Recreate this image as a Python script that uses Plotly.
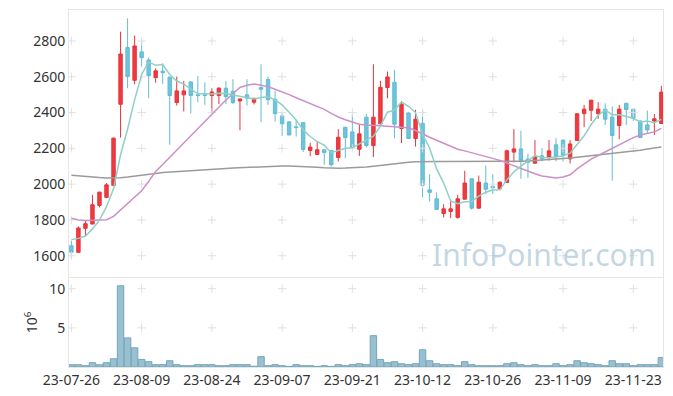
import plotly.graph_objects as go

dates = (
    ["2023-07-%02d" % d for d in [26, 27, 28, 31]]
    + ["2023-08-%02d" % d for d in [1, 2, 3, 4, 7, 8, 9, 10, 11, 14, 16, 17, 18, 21, 22, 23, 24, 25, 28, 29, 30, 31]]
    + ["2023-09-%02d" % d for d in [1, 4, 5, 6, 7, 8, 11, 12, 13, 14, 15, 18, 19, 20, 21, 22, 25, 26, 27]]
    + ["2023-10-%02d" % d for d in [4, 5, 6, 10, 11, 12, 13, 16, 17, 18, 19, 20, 23, 24, 25, 26, 27, 30, 31]]
    + ["2023-11-%02d" % d for d in [1, 2, 3, 6, 7, 8, 9, 10, 13, 14, 15, 16, 17, 20, 21, 22, 23, 24, 27, 28, 29]]
)

open_ = [1656, 1619, 1753, 1777, 1881, 1926, 1993, 2446, 2763, 2580,
         2739, 2694, 2595, 2631, 2598, 2456, 2499, 2571, 2499, 2499,
         2495, 2495, 2536, 2519, 2465, 2499, 2458, 2540, 2585, 2474,
         2381, 2348, 2320, 2344, 2188, 2166, 2192, 2188, 2149, 2318,
         2292, 2195, 2374, 2216, 2337, 2540, 2569, 2311, 2398, 2255,
         2340, 1968, 1918, 1836, 1847, 1814, 1916, 2030, 1866, 2006,
         1988, 1974, 2009, 2179, 2197, 2140, 2117, 2158, 2151, 2220,
         2246, 2141, 2244, 2394, 2413, 2394, 2419, 2374, 2327, 2452,
         2419, 2353, 2331, 2353, 2339]
high = [1684, 1764, 1795, 1940, 1959, 2006, 2260, 2852, 2926, 2830,
        2806, 2707, 2647, 2675, 2600, 2601, 2577, 2575, 2605, 2569,
        2536, 2543, 2577, 2586, 2478, 2586, 2481, 2670, 2600, 2521,
        2396, 2350, 2359, 2347, 2231, 2242, 2193, 2190, 2307, 2320,
        2391, 2335, 2391, 2670, 2577, 2629, 2638, 2465, 2400, 2415,
        2415, 2056, 1954, 1888, 1907, 1940, 2074, 2031, 2048, 2104,
        2056, 2015, 2192, 2307, 2298, 2170, 2246, 2201, 2246, 2257,
        2248, 2246, 2396, 2443, 2471, 2458, 2452, 2434, 2443, 2454,
        2420, 2355, 2411, 2392, 2549]
low = [1587, 1619, 1708, 1777, 1870, 1922, 1993, 2260, 2536, 2558,
       2657, 2480, 2567, 2560, 2220, 2439, 2406, 2394, 2458, 2443,
       2400, 2447, 2447, 2447, 2301, 2439, 2445, 2346, 2443, 2350,
       2270, 2273, 2266, 2179, 2156, 2164, 2108, 2099, 2127, 2145,
       2197, 2158, 2205, 2151, 2335, 2480, 2257, 2229, 2253, 2210,
       1926, 1903, 1857, 1814, 1810, 1807, 1914, 1857, 1862, 1944,
       1944, 1972, 2007, 2121, 2030, 2035, 2115, 2127, 2132, 2127,
       2127, 2115, 2242, 2318, 2353, 2365, 2331, 2020, 2251, 2331,
       2353, 2257, 2281, 2275, 2337]
close = [1620, 1755, 1779, 1885, 1955, 1996, 2257, 2727, 2601, 2772,
         2707, 2606, 2633, 2623, 2495, 2521, 2521, 2495, 2495, 2495,
         2515, 2536, 2489, 2456, 2476, 2480, 2480, 2530, 2472, 2394,
         2337, 2275, 2316, 2194, 2207, 2192, 2177, 2108, 2262, 2260,
         2207, 2281, 2216, 2374, 2541, 2599, 2335, 2446, 2255, 2363,
         1993, 1954, 1859, 1862, 1862, 1918, 2006, 1866, 2011, 1972,
         1980, 2011, 2186, 2197, 2132, 2122, 2155, 2141, 2186, 2155,
         2160, 2225, 2393, 2419, 2469, 2419, 2363, 2272, 2419, 2417,
         2368, 2260, 2303, 2365, 2514]

ma5 = [1690, 1697, 1710, 1750, 1799, 1874, 1974, 2164, 2307, 2471,
       2613, 2683, 2664, 2668, 2613, 2576, 2559, 2531, 2505, 2505,
       2504, 2508, 2506, 2498, 2491, 2487, 2476, 2484, 2488, 2471,
       2443, 2402, 2359, 2303, 2266, 2237, 2218, 2176, 2189, 2200,
       2203, 2224, 2245, 2268, 2324, 2402, 2413, 2459, 2435, 2400,
       2278, 2202, 2085, 2006, 1906, 1891, 1901, 1903, 1933, 1955,
       1967, 1968, 2024, 2069, 2101, 2130, 2158, 2149, 2147, 2152,
       2159, 2173, 2224, 2270, 2333, 2385, 2413, 2388, 2388, 2378,
       2368, 2347, 2353, 2343, 2362]
ma20 = [1810, 1800, 1797, 1797, 1798, 1801, 1820, 1855, 1894, 1930,
        1963, 2015, 2071, 2110, 2150, 2190, 2235, 2275, 2312, 2350,
        2390, 2430, 2470, 2505, 2540, 2552, 2560, 2553, 2545, 2530,
        2517, 2500, 2483, 2466, 2450, 2434, 2418, 2395, 2375, 2360,
        2348, 2335, 2330, 2326, 2326, 2324, 2322, 2320, 2315, 2300,
        2280, 2262, 2245, 2228, 2212, 2195, 2186, 2176, 2165, 2155,
        2145, 2133, 2118, 2103, 2085, 2070, 2058, 2046, 2038, 2034,
        2040, 2052, 2085, 2115, 2140, 2160, 2180, 2203, 2222, 2240,
        2260, 2275, 2285, 2292, 2312]
ma60 = [2050, 2046, 2042, 2039, 2037, 2035, 2034, 2036, 2040, 2046,
        2050, 2054, 2060, 2065, 2068, 2070, 2073, 2076, 2078, 2080,
        2083, 2086, 2088, 2090, 2092, 2094, 2096, 2097, 2099, 2100,
        2101, 2101, 2100, 2099, 2097, 2094, 2091, 2089, 2089, 2090,
        2091, 2093, 2096, 2100, 2105, 2110, 2114, 2118, 2122, 2125,
        2127, 2127, 2127, 2126, 2126, 2126, 2125, 2125, 2124, 2124,
        2125, 2125, 2126, 2127, 2128, 2130, 2132, 2134, 2137, 2140,
        2143, 2146, 2150, 2154, 2158, 2162, 2167, 2171, 2175, 2180,
        2185, 2190, 2196, 2202, 2208]

# volume in millions of shares
volume = [0.29, 0.29, 0.17, 0.55, 0.29, 0.55, 1.05, 10.37, 3.72, 2.45,
          0.97, 0.68, 0.30, 0.30, 0.80, 0.30, 0.17, 0.17, 0.30, 0.30,
          0.30, 0.17, 0.17, 0.30, 0.30, 0.30, 0.10, 1.32, 0.17, 0.30,
          0.17, 0.08, 0.30, 0.17, 0.17, 0.08, 0.17, 0.08, 0.30, 0.17,
          0.30, 0.42, 0.30, 4.00, 0.97, 0.55, 0.68, 0.42, 0.30, 0.42,
          2.20, 0.80, 0.42, 0.30, 0.30, 0.17, 0.68, 0.30, 0.17, 0.17,
          0.17, 0.17, 0.42, 0.55, 0.30, 0.17, 0.30, 0.17, 0.17, 0.42,
          0.17, 0.30, 0.80, 0.55, 0.42, 0.30, 0.17, 0.80, 0.42, 0.42,
          0.17, 0.30, 0.30, 0.30, 1.20]

price_ticks = [1600, 1800, 2000, 2200, 2400, 2600, 2800]
vol_ticks = [5, 10]
tick_dates = dates[::10]
tick_text = [d[2:] for d in tick_dates]

FONT = "Noto Sans"
fig = go.Figure()

# grid crosses at tick intersections (drawn first, behind the data)
gx, gy = [], []
for d in tick_dates:
    for p in price_ticks:
        gx.append(d); gy.append(p)
vx, vy = [], []
for d in tick_dates:
    for v in vol_ticks:
        vx.append(d); vy.append(v)

fig.add_trace(go.Scatter(x=gx, y=gy, mode="markers", hoverinfo="skip",
                         marker=dict(symbol="cross-thin", size=6,
                                     line=dict(color="#e0e0e0", width=1)),
                         xaxis="x", yaxis="y", showlegend=False))
fig.add_trace(go.Scatter(x=vx, y=vy, mode="markers", hoverinfo="skip",
                         marker=dict(symbol="cross-thin", size=6,
                                     line=dict(color="#e0e0e0", width=1)),
                         xaxis="x2", yaxis="y2", showlegend=False))

fig.add_trace(go.Candlestick(
    x=dates, open=open_, high=high, low=low, close=close,
    increasing=dict(line=dict(color="#e8343a", width=1), fillcolor="#ee3b3f"),
    decreasing=dict(line=dict(color="#62bcd4", width=1), fillcolor="#6ec4da"),
    xaxis="x", yaxis="y", showlegend=False))

fig.add_trace(go.Bar(x=dates, y=volume,
                     marker=dict(color="#98c0d0", line=dict(color="#74a5bb", width=1)),
                     xaxis="x2", yaxis="y2", showlegend=False))

fig.add_trace(go.Scatter(x=dates, y=ma60, mode="lines",
                         line=dict(color="#9b9b9b", width=1.5),
                         xaxis="x", yaxis="y", showlegend=False))
fig.add_trace(go.Scatter(x=dates, y=ma20, mode="lines",
                         line=dict(color="#cc8fc8", width=1.5),
                         xaxis="x", yaxis="y", showlegend=False))
fig.add_trace(go.Scatter(x=dates, y=ma5, mode="lines",
                         line=dict(color="#8ed0c6", width=1.5),
                         xaxis="x", yaxis="y", showlegend=False))

fig.add_annotation(text="InfoPointer.com", xref="paper", yref="paper",
                   x=0.992, y=0.315, xanchor="right", yanchor="middle",
                   showarrow=False,
                   font=dict(family=FONT, size=30, color="rgba(155,188,208,0.6)"))

axis_common = dict(showline=True, linecolor="#e6e6e6", linewidth=1, mirror=True,
                   showgrid=False, zeroline=False, ticks="", automargin=False,
                   tickfont=dict(family=FONT, size=14, color="#333333"))
xcat = dict(type="category", categoryorder="array", categoryarray=dates,
            range=[-0.34, 84.23], domain=[0, 1])

fig.update_layout(
    width=673, height=396,
    margin=dict(l=61, r=18, t=2, b=37),
    paper_bgcolor="white", plot_bgcolor="white",
    bargap=0.08,
    xaxis=dict(anchor="y", rangeslider=dict(visible=False), showticklabels=False,
               **xcat, **{k: v for k, v in axis_common.items() if k != "tickfont"}),
    xaxis2=dict(anchor="y2", matches="x", tickvals=tick_dates, ticktext=tick_text,
                tickangle=0, **xcat, **axis_common),
    yaxis=dict(domain=[0.253, 1], range=[1483, 2973], tickvals=price_ticks,
               **axis_common),
    yaxis2=dict(domain=[0, 0.25], range=[0, 11.4], tickvals=vol_ticks,
                title=dict(text="10<sup>6</sup>", font=dict(family=FONT, size=14, color="#333333"),
                           standoff=8),
                **axis_common),
)

fig.write_html("out.html")
